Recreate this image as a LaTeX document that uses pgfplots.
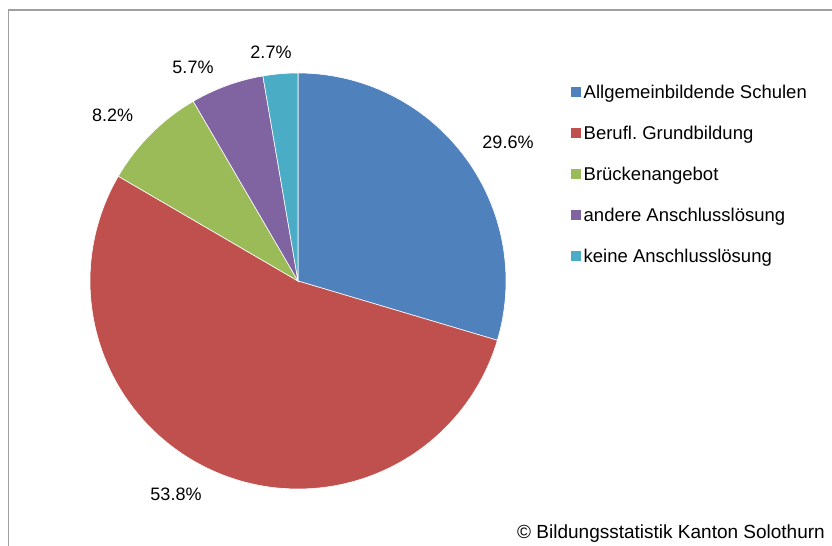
\documentclass[border=0pt]{standalone}
\usepackage{fontspec}
\setmainfont{Liberation Sans}
\usepackage{pgfplots}
\pgfplotsset{compat=1.18}
\definecolor{c1}{HTML}{4F81BD}
\definecolor{c2}{HTML}{C0504D}
\definecolor{c3}{HTML}{9BBB59}
\definecolor{c4}{HTML}{8064A2}
\definecolor{c5}{HTML}{4BACC6}
\newcommand{\lf}{\fontsize{18bp}{21.6bp}\selectfont}
\newcommand{\legf}{\fontsize{18.5bp}{22bp}\selectfont}
\newcommand{\cf}{\fontsize{19bp}{22bp}\selectfont}
\begin{document}
\begin{tikzpicture}
\begin{axis}[
  scale only axis, width=832bp, height=546bp,
  xmin=0, xmax=832, ymin=0, ymax=546,
  hide axis,
  legend image code/.code={\fill[#1,draw=none] (0bp,-2.9bp) rectangle (10bp,7.1bp);},
  legend style={draw=none, fill=none, at={(axis cs:570.7,459.8)}, anchor=north west,
    inner sep=0pt, outer sep=0pt,
    row sep=25.1bp, column sep=3bp,
    nodes={inner sep=0pt, font=\legf, text height=12bp, text depth=4bp}},
  legend cell align=left,
  slice/.style={fill=#1, draw=white, line width=0.6bp},
]
% percentages, cumulative: 0, 29.6, 83.4, 91.6, 97.3, 100
\addplot[slice=c1, domain=0:29.6, samples=80] ({298+208*cos(90-3.6*x)},{265+208*sin(90-3.6*x)}) -- (298,265) -- cycle;
\addlegendentry{Allgemeinbildende Schulen}
\addplot[slice=c2, domain=29.6:83.4, samples=120] ({298+208*cos(90-3.6*x)},{265+208*sin(90-3.6*x)}) -- (298,265) -- cycle;
\addlegendentry{Berufl.\ Grundbildung}
\addplot[slice=c3, domain=83.4:91.6, samples=30] ({298+208*cos(90-3.6*x)},{265+208*sin(90-3.6*x)}) -- (298,265) -- cycle;
\addlegendentry{Brückenangebot}
\addplot[slice=c4, domain=91.6:97.3, samples=25] ({298+208*cos(90-3.6*x)},{265+208*sin(90-3.6*x)}) -- (298,265) -- cycle;
\addlegendentry{andere Anschlusslösung}
\addplot[slice=c5, domain=97.3:100, samples=15] ({298+208*cos(90-3.6*x)},{265+208*sin(90-3.6*x)}) -- (298,265) -- cycle;
\addlegendentry{keine Anschlusslösung}

\node[anchor=base, font=\lf] at (axis cs:508,397) {29.6\%};
\node[anchor=base, font=\lf] at (axis cs:176,45) {53.8\%};
\node[anchor=base, font=\lf] at (axis cs:112.7,424.3) {8.2\%};
\node[anchor=base, font=\lf] at (axis cs:193,472) {5.7\%};
\node[anchor=base, font=\lf] at (axis cs:271,487.7) {2.7\%};
\node[anchor=base east, inner sep=0pt, font=\cf] at (axis cs:825,8) {© Bildungsstatistik Kanton Solothurn};

\draw[gray!75, line width=1.5bp] (axis cs:8.5,0) -- (axis cs:8.5,536) -- (axis cs:832,536);
\end{axis}
\pgfresetboundingbox
\useasboundingbox (current axis.south west) rectangle (current axis.north east);
\end{tikzpicture}
\end{document}
